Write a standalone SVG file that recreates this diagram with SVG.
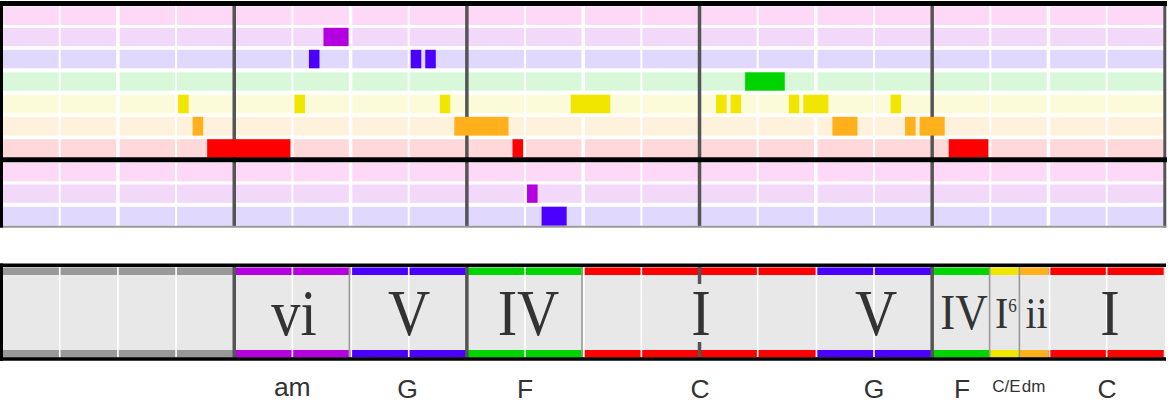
<svg xmlns="http://www.w3.org/2000/svg" width="1170" height="406" viewBox="0 0 1170 406">
<style>
.r0{fill:#fdd9f7}.r1{fill:#f2d9f9}.r2{fill:#e1d9fd}.r3{fill:#d9f8d9}.r4{fill:#fcfbd9}.r5{fill:#fff2dd}.r6{fill:#ffd9d9}
.beat{stroke:#fff;stroke-width:2}
.half{stroke:#fff;stroke-width:3.5}
.cbeat{stroke:#fff;stroke-width:1.6}
.cbound{stroke:#999;stroke-width:1.6}
.meas{stroke:#555;stroke-width:3.5}
.blk{stroke:#000}
.pu{fill:#b400e0}.bl{fill:#4b00ff}.gr{fill:#00d400}.ye{fill:#f0e600}.or{fill:#ffb01a}.re{fill:#ff0000}.gy{fill:#999}
.rn{font-family:"Liberation Serif","Times New Roman",serif;fill:#333;text-anchor:middle}
.cn{font-family:"Liberation Sans",Arial,sans-serif;fill:#333;text-anchor:middle;font-size:26.5px}
.cs{font-family:"Liberation Sans",Arial,sans-serif;fill:#333;text-anchor:middle;font-size:17px}
</style>
<rect width="1170" height="406" fill="#fff"/>

<g id="staff">
  <rect class="r0" x="3" y="6.5" width="1161" height="18.5"/>
  <rect class="r1" x="3" y="27.8" width="1161" height="18.3"/>
  <rect class="r2" x="3" y="49.8" width="1161" height="18.5"/>
  <rect class="r3" x="3" y="72.3" width="1161" height="18.4"/>
  <rect class="r4" x="3" y="94.7" width="1161" height="18.6"/>
  <rect class="r5" x="3" y="116.8" width="1161" height="18.8"/>
  <rect class="r6" x="3" y="139.2" width="1161" height="18.3"/>
  <rect class="r0" x="3" y="163" width="1161" height="18.3"/>
  <rect class="r1" x="3" y="184.5" width="1161" height="18.3"/>
  <rect class="r2" x="3" y="206.7" width="1161" height="19"/>
  <g id="staff-beats">
    <line class="beat" x1="59.76" y1="6" x2="59.76" y2="226"/>
    <line class="beat" x1="176.08" y1="6" x2="176.08" y2="226"/>
    <line class="beat" x1="292.4" y1="6" x2="292.4" y2="226"/>
    <line class="beat" x1="408.72" y1="6" x2="408.72" y2="226"/>
    <line class="beat" x1="525.04" y1="6" x2="525.04" y2="226"/>
    <line class="beat" x1="641.36" y1="6" x2="641.36" y2="226"/>
    <line class="beat" x1="757.68" y1="6" x2="757.68" y2="226"/>
    <line class="beat" x1="874" y1="6" x2="874" y2="226"/>
    <line class="beat" x1="990.32" y1="6" x2="990.32" y2="226"/>
    <line class="beat" x1="1106.64" y1="6" x2="1106.64" y2="226"/>
    <line class="half" x1="117.92" y1="6" x2="117.92" y2="226"/>
    <line class="half" x1="350.56" y1="6" x2="350.56" y2="226"/>
    <line class="half" x1="583.2" y1="6" x2="583.2" y2="226"/>
    <line class="half" x1="815.84" y1="6" x2="815.84" y2="226"/>
    <line class="half" x1="1048.48" y1="6" x2="1048.48" y2="226"/>
  </g>
  <g id="staff-measures">
    <line class="meas" x1="234.24" y1="5" x2="234.24" y2="227"/>
    <line class="meas" x1="466.88" y1="5" x2="466.88" y2="227"/>
    <line class="meas" x1="699.52" y1="5" x2="699.52" y2="227"/>
    <line class="meas" x1="932.16" y1="5" x2="932.16" y2="227"/>
    <line x1="1164.8" y1="3" x2="1164.8" y2="227.5" stroke="#555" stroke-width="3"/>
  </g>
</g>

<g id="notes">
  <rect class="ye" x="178.08" y="94.7" width="10.54" height="18.6"/>
  <rect class="or" x="192.62" y="116.8" width="10.54" height="18.8"/>
  <rect class="re" x="207.16" y="139.2" width="83.24" height="18.3"/>
  <rect class="ye" x="294.4" y="94.7" width="10.54" height="18.6"/>
  <rect class="bl" x="308.94" y="49.8" width="10.54" height="18.5"/>
  <rect class="pu" x="323.48" y="27.8" width="25.08" height="18.3"/>
  <rect class="bl" x="410.72" y="49.8" width="10.54" height="18.5"/>
  <rect class="bl" x="425.26" y="49.8" width="10.54" height="18.5"/>
  <rect class="ye" x="439.8" y="94.7" width="10.54" height="18.6"/>
  <rect class="or" x="454.34" y="116.8" width="54.16" height="18.8"/>
  <rect class="re" x="512.5" y="139.2" width="10.54" height="18.3"/>
  <rect class="pu" x="527.04" y="184.5" width="10.54" height="18.3"/>
  <rect class="bl" x="541.58" y="206.7" width="25.08" height="19"/>
  <rect class="ye" x="570.66" y="94.7" width="39.62" height="18.6"/>
  <rect class="ye" x="716.06" y="94.7" width="10.54" height="18.6"/>
  <rect class="ye" x="730.6" y="94.7" width="10.54" height="18.6"/>
  <rect class="gr" x="745.14" y="72.3" width="39.62" height="18.4"/>
  <rect class="ye" x="788.76" y="94.7" width="10.54" height="18.6"/>
  <rect class="ye" x="803.3" y="94.7" width="25.08" height="18.6"/>
  <rect class="or" x="832.38" y="116.8" width="25.08" height="18.8"/>
  <rect class="ye" x="890.54" y="94.7" width="10.54" height="18.6"/>
  <rect class="or" x="905.08" y="116.8" width="10.54" height="18.8"/>
  <rect class="or" x="919.62" y="116.8" width="25.08" height="18.8"/>
  <rect class="re" x="948.7" y="139.2" width="39.62" height="18.3"/>
</g>

<g id="staff-frame">
  <line class="blk" x1="0" y1="3.5" x2="1167" y2="3.5" stroke-width="5"/>
  <line class="blk" x1="0" y1="159.8" x2="1167" y2="159.8" stroke-width="5"/>
  <line x1="0" y1="226.7" x2="1166" y2="226.7" stroke="#999" stroke-width="2"/>
  <line class="blk" x1="1.5" y1="1" x2="1.5" y2="227.7" stroke-width="3"/>
</g>

<g id="chord-bar">
  <rect x="3" y="267" width="1162" height="91" fill="#e8e8e8"/>
  <g id="chord-none">
    <rect class="gy" x="3" y="267.5" width="231.24" height="7.5"/>
    <rect class="gy" x="3" y="350" width="231.24" height="7.5"/>
  </g>
  <g id="chord-vi">
    <rect class="pu" x="234.24" y="267.5" width="116.32" height="7.5"/>
    <rect class="pu" x="234.24" y="350" width="116.32" height="7.5"/>
  </g>
  <g id="chord-V1">
    <rect class="bl" x="350.56" y="267.5" width="116.32" height="7.5"/>
    <rect class="bl" x="350.56" y="350" width="116.32" height="7.5"/>
  </g>
  <g id="chord-IV1">
    <rect class="gr" x="466.88" y="267.5" width="116.32" height="7.5"/>
    <rect class="gr" x="466.88" y="350" width="116.32" height="7.5"/>
  </g>
  <g id="chord-I1">
    <rect class="re" x="583.2" y="267.5" width="232.64" height="7.5"/>
    <rect class="re" x="583.2" y="350" width="232.64" height="7.5"/>
  </g>
  <g id="chord-V2">
    <rect class="bl" x="815.84" y="267.5" width="116.32" height="7.5"/>
    <rect class="bl" x="815.84" y="350" width="116.32" height="7.5"/>
  </g>
  <g id="chord-IV2">
    <rect class="gr" x="932.16" y="267.5" width="58.16" height="7.5"/>
    <rect class="gr" x="932.16" y="350" width="58.16" height="7.5"/>
  </g>
  <g id="chord-I6">
    <rect class="ye" x="990.32" y="267.5" width="29.08" height="7.5"/>
    <rect class="ye" x="990.32" y="350" width="29.08" height="7.5"/>
  </g>
  <g id="chord-ii">
    <rect class="or" x="1019.4" y="267.5" width="29.08" height="7.5"/>
    <rect class="or" x="1019.4" y="350" width="29.08" height="7.5"/>
  </g>
  <g id="chord-I2">
    <rect class="re" x="1048.48" y="267.5" width="115.2" height="7.5"/>
    <rect class="re" x="1048.48" y="350" width="115.2" height="7.5"/>
  </g>
  <g id="chord-beats">
    <line class="cbeat" x1="59.76" y1="267" x2="59.76" y2="357.5"/>
    <line class="cbeat" x1="117.92" y1="267" x2="117.92" y2="357.5"/>
    <line class="cbeat" x1="176.08" y1="267" x2="176.08" y2="357.5"/>
    <line class="cbeat" x1="292.4" y1="267" x2="292.4" y2="357.5"/>
    <line class="cbeat" x1="351.3" y1="267" x2="351.3" y2="357.5"/>
    <line class="cbeat" x1="408.72" y1="267" x2="408.72" y2="357.5"/>
    <line class="cbeat" x1="525.04" y1="267" x2="525.04" y2="357.5"/>
    <line class="cbeat" x1="583.9" y1="267" x2="583.9" y2="357.5"/>
    <line class="cbeat" x1="641.36" y1="267" x2="641.36" y2="357.5"/>
    <line class="cbeat" x1="757.68" y1="267" x2="757.68" y2="357.5"/>
    <line class="cbeat" x1="816.5" y1="267" x2="816.5" y2="357.5"/>
    <line class="cbeat" x1="874" y1="267" x2="874" y2="357.5"/>
    <line class="cbeat" x1="1049.5" y1="267" x2="1049.5" y2="357.5"/>
    <line class="cbeat" x1="1106.64" y1="267" x2="1106.64" y2="357.5"/>
  </g>
  <g id="chord-bounds">
    <line class="cbound" x1="349.4" y1="267" x2="349.4" y2="357.5"/>
    <line class="cbound" x1="582" y1="267" x2="582" y2="357.5"/>
    <line class="cbound" x1="989.6" y1="267" x2="989.6" y2="357.5"/>
    <line class="cbound" x1="1019.4" y1="267" x2="1019.4" y2="357.5"/>
  </g>
  <g id="chord-measures">
    <line class="meas" x1="234.24" y1="267" x2="234.24" y2="357.5"/>
    <line class="meas" x1="466.88" y1="267" x2="466.88" y2="357.5"/>
    <line class="meas" x1="932.16" y1="267" x2="932.16" y2="357.5"/>
    <line class="meas" x1="699.52" y1="267" x2="699.52" y2="284"/>
    <line class="meas" x1="699.52" y1="342" x2="699.52" y2="357.5"/>
  </g>
  <g id="chord-frame">
    <line class="blk" x1="0" y1="265.3" x2="1166" y2="265.3" stroke-width="3.5"/>
    <line class="blk" x1="0" y1="359" x2="1166" y2="359" stroke-width="3.5"/>
    <line class="blk" x1="1.5" y1="263.5" x2="1.5" y2="360.8" stroke-width="3"/>
  </g>
  <g id="numerals">
    <text class="rn" font-size="65" transform="translate(294,334.5) scale(0.9,1)">vi</text>
    <text class="rn" font-size="65" transform="translate(409,334.5) scale(0.9,1)">V</text>
    <text class="rn" font-size="65" transform="translate(528.5,334.5) scale(0.9,1)">IV</text>
    <text class="rn" font-size="65" transform="translate(701,334.5) scale(0.9,1)">I</text>
    <text class="rn" font-size="65" transform="translate(876,334.5) scale(0.9,1)">V</text>
    <text class="rn" font-size="50" transform="translate(964,329) scale(0.9,1)">IV</text>
    <text class="rn" font-size="44" transform="translate(1001.7,328) scale(0.9,1)">I</text>
    <text class="rn" font-size="19" transform="translate(1012.6,312) scale(0.9,1)">6</text>
    <text class="rn" font-size="44" transform="translate(1036.5,328) scale(0.9,1)">ii</text>
    <text class="rn" font-size="65" transform="translate(1110,334.5) scale(0.9,1)">I</text>
  </g>
</g>

<g id="chord-names">
  <text class="cn" x="292.3" y="396">am</text>
  <text class="cn" x="407.5" y="397.5">G</text>
  <text class="cn" x="525" y="397.5">F</text>
  <text class="cn" x="700" y="397.5">C</text>
  <text class="cn" x="874" y="397.5">G</text>
  <text class="cn" x="962" y="397.5">F</text>
  <text class="cs" x="1006.5" y="392">C/E</text>
  <text class="cs" x="1033.5" y="392">dm</text>
  <text class="cn" x="1107" y="397.5">C</text>
</g>
</svg>
